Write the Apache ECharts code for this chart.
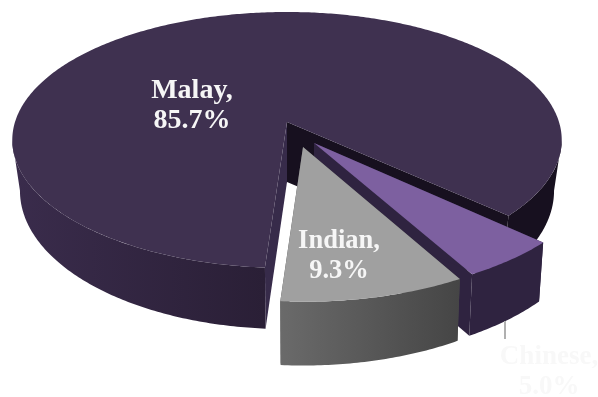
<!DOCTYPE html>
<html>
<head>
<meta charset="utf-8">
<style>html,body{margin:0;padding:0;background:#fff}#chart{width:598px;height:397px}</style>
<script src="https://cdn.jsdelivr.net/npm/echarts@6/dist/echarts.min.js"></script>
</head>
<body>
<div id="chart"></div>
<script>
// Ethnic composition, shown as an exploded 3D pie
const categories = ['Malay', 'Chinese', 'Indian'];
const shares = [85.7, 5.0, 9.3];

// Angles run clockwise from the back of the disc
const startAngle = 184;
const total = shares.reduce((a, b) => a + b, 0);

// Projection of the tilted disc
const RX = 272, RY = 125.5, PERSPECTIVE = 0.1406, DEPTH = 60;
// Angle offsets where the rim turns vertical on screen, left and right of the disc
const LEFT_TURN = 261.9, RIGHT_TURN = 458.1;

const looks = {
  Malay: {
    tip: [287, 122], origin: [287, 122], r: 1, xs: 1, footScale: 0.972,
    top: '#3f3150', cutIn: '#17101f', cutOut: '#372b4a',
    sides: [
      { from: RIGHT_TURN, colors: ['#17101f', '#17101f'] },
      { to: LEFT_TURN, colors: ['#2a1f36', '#3a2c4c'], gx: [264, 12] }
    ],
    label: { x: 192, y: 106, size: 28, fill: '#f6f6f6' }
  },
  Chinese: {
    tip: [314, 143], origin: [315, 146], r: 1.03, xs: 1, footScale: 0.982,
    top: '#7d60a0', cutIn: '#2f2340', cutOut: '#2f2340',
    sides: [{ colors: ['#2f2340', '#2f2340'] }],
    label: { x: 549, y: 372, size: 27, fill: '#f8f8f8' },
    leader: [[505, 321], [505, 339]]
  },
  Indian: {
    tip: [303, 147], origin: [303, 147], r: 1.06, xs: 0.97, footScale: 0.985,
    top: '#a0a0a0', cutIn: '#4a4a4a', cutOut: '#4a4a4a',
    sides: [{ colors: ['#6a6a6a', '#454545'], gx: [281, 460] }],
    label: { x: 339, y: 256, size: 26.5, fill: '#f6f6f6' }
  }
};

function rimPoint(look, deg) {
  const t = deg * Math.PI / 180;
  const X = Math.sin(t) * look.r * look.xs, Z = Math.cos(t) * look.r;
  const p = 1 / (1 + PERSPECTIVE * Math.cos(t));
  return [look.origin[0] + RX * X * p, look.origin[1] - RY * Z * p];
}
// The wall looks a little taller nearer the viewer
function foot(look, pt) {
  return [
    look.tip[0] + (pt[0] - look.tip[0]) * look.footScale,
    pt[1] + DEPTH + (pt[1] - 255) * 0.08
  ];
}
function arc(look, from, to) {
  const out = [];
  const n = Math.max(2, Math.ceil(Math.abs(to - from) * 1.5));
  for (let i = 0; i <= n; i++) out.push(rimPoint(look, from + (to - from) * i / n));
  return out;
}
function poly(points, fill) {
  return { type: 'polygon', shape: { points }, style: { fill } };
}

function renderSlice(params, api) {
  const idx = api.value(0);
  const name = categories[idx];
  const look = looks[name];
  const before = shares.slice(0, idx).reduce((a, b) => a + b, 0);
  const a0 = startAngle + before / total * 360;
  const a1 = a0 + api.value(1) / total * 360;
  const tip = look.tip, tipFoot = [tip[0], tip[1] + DEPTH];
  const children = [];

  // Cut faces along the two straight edges
  const endRim = rimPoint(look, a1), startRim = rimPoint(look, a0);
  children.push(poly([tip, endRim, foot(look, endRim), tipFoot], look.cutIn));
  children.push(poly([tip, startRim, foot(look, startRim), tipFoot], look.cutOut));

  // Outer wall
  look.sides.forEach(s => {
    const rim = arc(look, s.from === undefined ? a0 : s.from, s.to === undefined ? a1 : s.to);
    const pts = rim.concat(rim.slice().reverse().map(q => foot(look, q)));
    const g = s.gx || [rim[0][0], rim[rim.length - 1][0]];
    const fill = new echarts.graphic.LinearGradient(g[0], 0, g[1], 0, [
      { offset: 0, color: s.colors[0] }, { offset: 1, color: s.colors[1] }
    ], true);
    children.push(poly(pts, fill));
  });

  // Top face
  children.push(poly([tip].concat(arc(look, a0, a1)), look.top));

  if (look.leader) {
    children.push({
      type: 'line',
      shape: { x1: look.leader[0][0], y1: look.leader[0][1], x2: look.leader[1][0], y2: look.leader[1][1] },
      style: { stroke: '#b0b0b0', lineWidth: 2 }
    });
  }

  // Value label
  const l = look.label;
  children.push({
    type: 'text',
    style: {
      text: name + ',\n' + api.value(1).toFixed(1) + '%',
      x: l.x, y: l.y,
      fill: l.fill,
      font: 'bold ' + l.size + 'px "Liberation Serif", serif',
      lineHeight: 30,
      align: 'center',
      verticalAlign: 'middle'
    }
  });
  return { type: 'group', children };
}

const chart = echarts.init(document.getElementById('chart'), null, { renderer: 'canvas' });
chart.setOption({
  animation: false,
  backgroundColor: '#ffffff',
  series: [{
    type: 'custom',
    coordinateSystem: 'none',
    renderItem: renderSlice,
    encode: { itemName: 2 },
    data: categories.map((c, i) => [i, shares[i], c])
  }]
});
</script>
</body>
</html>
